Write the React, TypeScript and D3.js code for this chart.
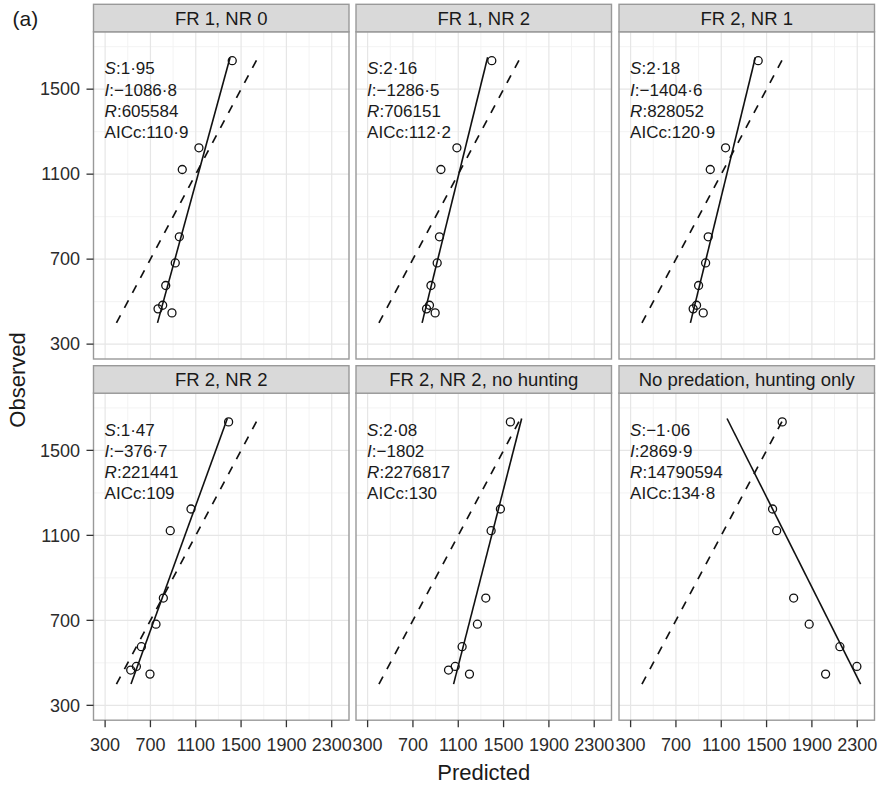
import React from "react";
import * as d3 from "d3";

const OBSERVED = [1634, 1224, 1122, 805, 682, 576, 483, 466, 447];
const PANEL_TITLES = [
  "FR 1, NR 0",
  "FR 1, NR 2",
  "FR 2, NR 1",
  "FR 2, NR 2",
  "FR 2, NR 2, no hunting",
  "No predation, hunting only",
];
const PRED_FR1_NR0 = [1422, 1128, 981, 955, 919, 835, 808, 767, 890];
const PRED_FR1_NR2 = [1396, 1088, 947, 934, 914, 859, 846, 820, 896];
const PRED_FR2_NR1 = [1426, 1138, 1003, 985, 962, 900, 882, 852, 941];
const PRED_FR2_NR2 = [1390, 1058, 875, 814, 749, 620, 576, 526, 696];
const PRED_NO_HUNT = [1560, 1472, 1390, 1343, 1269, 1134, 1073, 1014, 1199];
const PRED_NO_PRED = [1638, 1553, 1589, 1739, 1876, 2147, 2297, 2400, 2021];
const PREDICTED = [PRED_FR1_NR0, PRED_FR1_NR2, PRED_FR2_NR1, PRED_FR2_NR2, PRED_NO_HUNT, PRED_NO_PRED];
const SLOPES = [1.95, 2.16, 2.18, 1.47, 2.08, -1.06];
const INTERCEPTS = [-1086.8, -1286.5, -1404.6, -376.7, -1802, 2869.9];
const RSS = [605584, 706151, 828052, 221441, 2276817, 14790594];
const AICC = [110.9, 112.2, 120.9, 109, 130, 134.8];
const X_TICKS = [300, 700, 1100, 1500, 1900, 2300];
const X_MINOR = [500, 900, 1300, 1700, 2100];
const Y_TICKS = [300, 700, 1100, 1500];
const Y_MINOR = [500, 900, 1300, 1700];
const X_LIMITS = [300, 2350];
const Y_LIMITS = [300, 1700];
const LINE_RANGE = [400, 1650];

const FONT = "'Liberation Sans', Arial, Helvetica, sans-serif";
const COL_X = [93.5, 356, 619];
const PANEL_W = 255.5;
const STRIP_TOP = [4.3, 365.7];
const STRIP_H = 27.5;
const PLOT_TOP = [31.8, 393];
const PLOT_H = 327.2;

const fmt = (v: number) => String(v).replace(".", "·").replace("-", "−");

function expand(lim: number[]) {
  const r = lim[1] - lim[0];
  return [lim[0] - 0.05 * r, lim[1] + 0.05 * r];
}

function Panel({ idx }: { idx: number }) {
  const col = idx % 3;
  const row = Math.floor(idx / 3);
  const x0 = COL_X[col];
  const y0 = PLOT_TOP[row];
  const x = d3.scaleLinear().domain(expand(X_LIMITS)).range([x0, x0 + PANEL_W]);
  const y = d3.scaleLinear().domain(expand(Y_LIMITS)).range([y0 + PLOT_H, y0]);
  const pred = PREDICTED[idx];
  const pts = pred
    .map((p, i) => ({ p, o: OBSERVED[i] }))
    .filter((d) => d.p >= X_LIMITS[0] && d.p <= X_LIMITS[1]);
  const S = SLOPES[idx];
  const I = INTERCEPTS[idx];
  const line = d3
    .line<number>()
    .x((v) => x((v - I) / S))
    .y((v) => y(v));
  const diag = d3
    .line<number>()
    .x((v) => x(v))
    .y((v) => y(v));
  const clipId = `clip${idx}`;
  const tx = x(X_LIMITS[0]) - 0.5;
  const ty = y0 + 42.5;
  const lh = 21.3;
  return (
    <g>
      <defs>
        <clipPath id={clipId}>
          <rect x={x0} y={y0} width={PANEL_W} height={PLOT_H} />
        </clipPath>
      </defs>
      <rect x={x0} y={y0} width={PANEL_W} height={PLOT_H} fill="#ffffff" />
      <g clipPath={`url(#${clipId})`}>
        {X_MINOR.map((t) => (
          <line key={"xm" + t} x1={x(t)} x2={x(t)} y1={y0} y2={y0 + PLOT_H} stroke="#f2f2f2" strokeWidth={0.9} />
        ))}
        {Y_MINOR.map((t) => (
          <line key={"ym" + t} x1={x0} x2={x0 + PANEL_W} y1={y(t)} y2={y(t)} stroke="#f2f2f2" strokeWidth={0.9} />
        ))}
        {X_TICKS.map((t) => (
          <line key={"xM" + t} x1={x(t)} x2={x(t)} y1={y0} y2={y0 + PLOT_H} stroke="#e6e6e6" strokeWidth={1.2} />
        ))}
        {Y_TICKS.map((t) => (
          <line key={"yM" + t} x1={x0} x2={x0 + PANEL_W} y1={y(t)} y2={y(t)} stroke="#e6e6e6" strokeWidth={1.2} />
        ))}
        <path d={diag(LINE_RANGE) || ""} stroke="#111" strokeWidth={1.7} strokeDasharray="8.5,8.5" fill="none" />
        <path d={line(LINE_RANGE) || ""} stroke="#111" strokeWidth={1.6} fill="none" />
        {pts.map((d, i) => (
          <circle key={i} cx={x(d.p)} cy={y(d.o)} r={4} fill="none" stroke="#111" strokeWidth={1.3} />
        ))}
      </g>
      <g fontFamily={FONT} fontSize={17} fill="#1a1a1a">
        <text x={tx} y={ty}>
          <tspan fontStyle="italic">S</tspan>:{fmt(S)}
        </text>
        <text x={tx} y={ty + lh}>
          <tspan fontStyle="italic">I</tspan>:{fmt(I)}
        </text>
        <text x={tx} y={ty + 2 * lh}>
          <tspan fontStyle="italic">R</tspan>:{fmt(RSS[idx])}
        </text>
        <text x={tx} y={ty + 3 * lh}>AICc:{fmt(AICC[idx])}</text>
      </g>
      <rect x={x0} y={y0} width={PANEL_W} height={PLOT_H} fill="none" stroke="#999999" strokeWidth={1.4} />
      <rect x={x0} y={STRIP_TOP[row]} width={PANEL_W} height={STRIP_H} fill="#d9d9d9" stroke="#999999" strokeWidth={1.4} />
      <text
        x={x0 + PANEL_W / 2}
        y={STRIP_TOP[row] + STRIP_H / 2 + 6.8}
        textAnchor="middle"
        fontFamily={FONT}
        fontSize={18.5}
        fill="#1a1a1a"
      >
        {PANEL_TITLES[idx]}
      </text>
      {col === 0 &&
        Y_TICKS.map((t) => (
          <g key={"yt" + t}>
            <line x1={x0 - 7} x2={x0} y1={y(t)} y2={y(t)} stroke="#333" strokeWidth={1.3} />
            <text x={x0 - 13.5} y={y(t) + 6.3} textAnchor="end" fontFamily={FONT} fontSize={18} fill="#2b2b2b">
              {t}
            </text>
          </g>
        ))}
      {row === 1 &&
        X_TICKS.map((t) => (
          <g key={"xt" + t}>
            <line x1={x(t)} x2={x(t)} y1={y0 + PLOT_H} y2={y0 + PLOT_H + 7} stroke="#333" strokeWidth={1.3} />
            <text x={x(t)} y={750.5} textAnchor="middle" fontFamily={FONT} fontSize={18} fill="#2b2b2b">
              {t}
            </text>
          </g>
        ))}
    </g>
  );
}

export default function App() {
  return (
    <svg
      width={879}
      height={788}
      style={{ position: "absolute", left: 0, top: 0, background: "#ffffff" }}
    >
      <rect width={879} height={788} fill="#ffffff" />
      {PANEL_TITLES.map((_, i) => (
        <Panel key={i} idx={i} />
      ))}
      <text x={12.5} y={25.5} fontFamily={FONT} fontSize={21} fill="#1a1a1a">
        (a)
      </text>
      <text x={483.7} y={780} textAnchor="middle" fontFamily={FONT} fontSize={22} fill="#1a1a1a">
        Predicted
      </text>
      <text
        transform="translate(25,380) rotate(-90)"
        textAnchor="middle"
        fontFamily={FONT}
        fontSize={22}
        fill="#1a1a1a"
      >
        Observed
      </text>
    </svg>
  );
}
